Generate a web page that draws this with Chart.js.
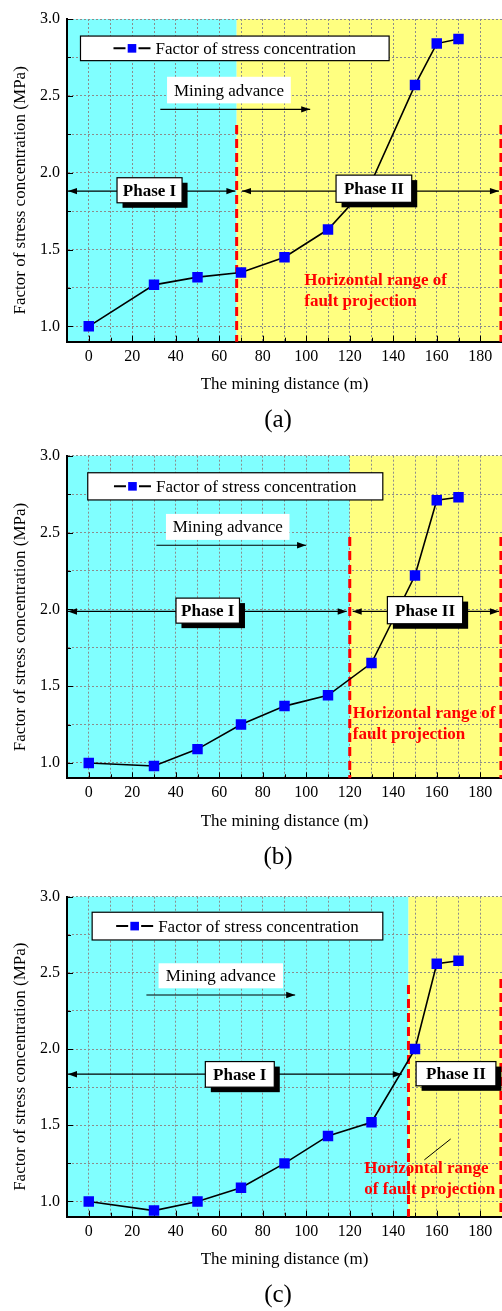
<!DOCTYPE html>
<html>
<head>
<meta charset="utf-8">
<script src="https://cdn.jsdelivr.net/npm/chart.js@4.4.1/dist/chart.umd.min.js"></script>
<style>
  html, body { margin: 0; padding: 0; background: #fff; }
  #wrap { position: relative; width: 502px; height: 1311px; overflow: hidden; }
  canvas { position: absolute; left: 0; }
</style>
</head>
<body>
<div id="wrap">
  <canvas id="panelA" width="502" height="437" style="top:0px"></canvas>
  <canvas id="panelB" width="502" height="441" style="top:437px"></canvas>
  <canvas id="panelC" width="502" height="433" style="top:878px"></canvas>
</div>
<script>
// Mining distance (m) of each measurement
const distances = [0, 30, 50, 70, 90, 110, 130, 150, 160, 170];
// Stress concentration factor for the three fault positions
const factorA = [1.00, 1.27, 1.32, 1.35, 1.45, 1.63, 1.94, 2.57, 2.84, 2.87];
const factorB = [1.00, 0.98, 1.09, 1.25, 1.37, 1.44, 1.65, 2.22, 2.71, 2.73];
const factorC = [1.00, 0.94, 1.00, 1.09, 1.25, 1.43, 1.52, 2.00, 2.56, 2.58];
// Start of the horizontal fault projection range (m)
const faultStart = [68, 120, 147];

// Axis ticks
const xTicks = [0, 10, 20, 30, 40, 50, 60, 70, 80, 90, 100, 110, 120, 130, 140, 150, 160, 170, 180, 190];
const yTicks = [1.0, 1.25, 1.5, 1.75, 2.0, 2.25, 2.5, 2.75, 3.0];

// Texts
const seriesLabel = 'Factor of stress concentration';
const xTitle = 'The mining distance (m)';
const yTitle = 'Factor of stress concentration (MPa)';
const panelLetters = ['(a)', '(b)', '(c)'];
const phaseNames = ['Phase I', 'Phase II'];
const advanceText = 'Mining advance';
const faultLinesAB = ['Horizontal range of', 'fault projection'];
const faultLinesC = ['Horizontal range', 'of fault projection'];

const FONT = "'Liberation Serif', 'Times New Roman', serif";

// Placement of the annotations, in axis units
const panels = [
  {
    id: 'panelA', values: factorA, boundary: faultStart[0], letter: panelLetters[0],
    padTop: 19, padBottom: 35.3,
    dashTop: [2.31, 2.31],
    legend: [-3.8, 138.1, 2.889, 2.729],
    advance: { box: [36.0, 92.9, 2.624, 2.451], ay: 2.412, ax: [32.9, 101.8] },
    phaseY: 1.88,
    phase1: { arrow: [-10, 67.4], box: [13.0, 42.9, 1.967, 1.804] },
    phase2: { arrow: [70.0, 188.6], box: [113.7, 148.5, 1.984, 1.807] },
    fault: { x: 99.1, y: [1.301, 1.166], lines: faultLinesAB }
  },
  {
    id: 'panelB', values: factorB, boundary: faultStart[1], letter: panelLetters[1],
    padTop: 18.7, padBottom: 39.7,
    dashTop: [2.47, 2.47],
    legend: [-0.46, 135.2, 2.889, 2.712],
    advance: { box: [35.5, 92.3, 2.621, 2.452], ay: 2.417, ax: [31.1, 99.9] },
    phaseY: 1.986,
    phase1: { arrow: [-10, 118.6], box: [40.1, 69.3, 2.073, 1.910] },
    phase2: { arrow: [120.9, 188.6], box: [137.3, 171.9, 2.083, 1.906] },
    fault: { x: 121.4, y: [1.325, 1.189], lines: faultLinesAB }
  },
  {
    id: 'panelC', values: factorC, boundary: faultStart[2], letter: panelLetters[2],
    padTop: 18.7, padBottom: 34.3,
    dashTop: [2.42, 2.46],
    legend: [1.56, 135.2, 2.898, 2.716],
    advance: { box: [32.1, 89.3, 2.563, 2.399], ay: 2.355, ax: [26.5, 94.9] },
    phaseY: 1.835,
    phase1: { arrow: [-10, 143.9], box: [53.6, 85.3, 1.918, 1.750] },
    phase2: { arrow: null, box: [150.5, 187.2, 1.918, 1.759] },
    fault: { x: 126.7, y: [1.223, 1.083], lines: faultLinesC, pointer: [154.3, 1.273, 166.4, 1.410] }
  }
];

function arrowHead(ctx, x, y, dir) {
  const len = 9, hw = 3.2;
  ctx.beginPath();
  ctx.moveTo(x, y);
  ctx.lineTo(x - dir * len, y - hw);
  ctx.lineTo(x - dir * len, y + hw);
  ctx.closePath();
  ctx.fill();
}

function shadowBox(ctx, x1, y1, x2, y2, text) {
  ctx.fillStyle = '#000';
  ctx.fillRect(x1 + 5.5, y1 + 5, x2 - x1, y2 - y1);
  ctx.fillStyle = '#fff';
  ctx.fillRect(x1, y1, x2 - x1, y2 - y1);
  ctx.strokeStyle = '#000';
  ctx.lineWidth = 1.2;
  ctx.strokeRect(x1, y1, x2 - x1, y2 - y1);
  ctx.fillStyle = '#000';
  ctx.font = 'bold 17px ' + FONT;
  ctx.textAlign = 'center';
  ctx.textBaseline = 'middle';
  ctx.fillText(text, (x1 + x2) / 2, (y1 + y2) / 2 + 1);
}

function makeDecor(P) {
  return {
    id: 'decor_' + P.id,
    beforeDraw(chart) {
      const { ctx, chartArea: a, scales: { x } } = chart;
      const bx = x.getPixelForValue(P.boundary);
      ctx.save();
      ctx.fillStyle = '#80ffff';
      ctx.fillRect(a.left, a.top, bx - a.left, a.bottom - a.top);
      ctx.fillStyle = '#ffff80';
      ctx.fillRect(bx, a.top, a.right - bx, a.bottom - a.top);
      ctx.restore();
    },
    beforeDatasetsDraw(chart) {
      const { ctx, chartArea: a, scales: { x, y } } = chart;
      ctx.save();
      // inward tick marks
      ctx.strokeStyle = '#000';
      ctx.lineWidth = 1;
      xTicks.forEach(v => {
        if (v > 180) return;
        const px = Math.round(x.getPixelForValue(v)) + 0.5;
        const len = v % 20 === 0 ? 6 : 4;
        ctx.beginPath(); ctx.moveTo(px, a.bottom); ctx.lineTo(px, a.bottom - len); ctx.stroke();
      });
      yTicks.forEach(v => {
        const py = Math.round(y.getPixelForValue(v)) + 0.5;
        const major = Math.abs(v * 2 - Math.round(v * 2)) < 1e-6;
        const len = major ? 6 : 4;
        ctx.beginPath(); ctx.moveTo(a.left, py); ctx.lineTo(a.left + len, py); ctx.stroke();
      });
      // fault projection range limits
      ctx.strokeStyle = '#ff0000';
      ctx.lineWidth = 3;
      ctx.setLineDash([9, 5]);
      [[P.boundary, P.dashTop[0]], [189.5, P.dashTop[1]]].forEach(([xv, top]) => {
        const px = x.getPixelForValue(xv);
        ctx.beginPath();
        ctx.moveTo(px, y.getPixelForValue(top));
        ctx.lineTo(px, a.bottom);
        ctx.stroke();
      });
      ctx.restore();
    },
    afterDatasetsDraw(chart) {
      const { ctx, scales: { x, y } } = chart;
      const X = v => x.getPixelForValue(v);
      const Y = v => y.getPixelForValue(v);
      ctx.save();

      // phase arrows and labels
      const py = Y(P.phaseY);
      ctx.strokeStyle = '#000';
      ctx.fillStyle = '#000';
      ctx.lineWidth = 1.2;
      [P.phase1, P.phase2].forEach(ph => {
        if (!ph.arrow) return;
        const x1 = X(ph.arrow[0]) + 1, x2 = X(ph.arrow[1]);
        ctx.beginPath(); ctx.moveTo(x1, py); ctx.lineTo(x2, py); ctx.stroke();
        arrowHead(ctx, x1, py, -1);
        arrowHead(ctx, x2, py, 1);
      });
      [P.phase1, P.phase2].forEach((ph, i) => {
        const b = ph.box;
        shadowBox(ctx, X(b[0]), Y(b[2]), X(b[1]), Y(b[3]), phaseNames[i]);
      });

      // legend
      const L = P.legend;
      const lx1 = X(L[0]), lx2 = X(L[1]), ly1 = Y(L[2]), ly2 = Y(L[3]);
      ctx.fillStyle = '#fff';
      ctx.fillRect(lx1, ly1, lx2 - lx1, ly2 - ly1);
      ctx.strokeStyle = '#000';
      ctx.lineWidth = 1.2;
      ctx.strokeRect(lx1, ly1, lx2 - lx1, ly2 - ly1);
      ctx.font = '17px ' + FONT;
      const tw = ctx.measureText(seriesLabel).width;
      const cw = 37 + 5 + tw;
      const sx = (lx1 + lx2) / 2 - cw / 2;
      const cy = (ly1 + ly2) / 2;
      ctx.lineWidth = 2;
      ctx.beginPath();
      ctx.moveTo(sx, cy); ctx.lineTo(sx + 12, cy);
      ctx.moveTo(sx + 25, cy); ctx.lineTo(sx + 37, cy);
      ctx.stroke();
      ctx.fillStyle = '#0000ff';
      ctx.fillRect(sx + 14.2, cy - 4.3, 8.6, 8.6);
      ctx.fillStyle = '#000';
      ctx.textAlign = 'left';
      ctx.textBaseline = 'middle';
      ctx.fillText(seriesLabel, sx + 42, cy + 1);

      // mining advance
      const A = P.advance;
      const ax1 = X(A.box[0]), ax2 = X(A.box[1]), ay1 = Y(A.box[2]), ay2 = Y(A.box[3]);
      ctx.fillStyle = '#fff';
      ctx.fillRect(ax1, ay1, ax2 - ax1, ay2 - ay1);
      ctx.fillStyle = '#000';
      ctx.textAlign = 'center';
      ctx.fillText(advanceText, (ax1 + ax2) / 2, (ay1 + ay2) / 2 + 1);
      const arY = Y(A.ay);
      ctx.lineWidth = 1.2;
      ctx.beginPath(); ctx.moveTo(X(A.ax[0]), arY); ctx.lineTo(X(A.ax[1]), arY); ctx.stroke();
      arrowHead(ctx, X(A.ax[1]), arY, 1);

      // fault projection note
      const F = P.fault;
      ctx.fillStyle = '#ff0000';
      ctx.font = 'bold 17px ' + FONT;
      ctx.textAlign = 'left';
      F.lines.forEach((t, i) => ctx.fillText(t, X(F.x), Y(F.y[i]) + 1));
      if (F.pointer) {
        ctx.strokeStyle = '#000';
        ctx.lineWidth = 1;
        ctx.beginPath();
        ctx.moveTo(X(F.pointer[0]), Y(F.pointer[1]));
        ctx.lineTo(X(F.pointer[2]), Y(F.pointer[3]));
        ctx.stroke();
      }
      ctx.restore();
    },
    afterDraw(chart) {
      const { ctx, chartArea: a } = chart;
      ctx.save();
      ctx.fillStyle = '#000';
      // y-axis title
      ctx.font = '17px ' + FONT;
      ctx.textAlign = 'center';
      ctx.textBaseline = 'middle';
      ctx.translate(21, (a.top + a.bottom) / 2 + 10);
      ctx.rotate(-Math.PI / 2);
      ctx.fillText(yTitle, 0, 0);
      ctx.restore();
      // panel letter
      ctx.save();
      ctx.fillStyle = '#000';
      ctx.font = '25px ' + FONT;
      ctx.textAlign = 'center';
      ctx.textBaseline = 'middle';
      ctx.fillText(P.letter, 278, a.bottom + 79);
      ctx.restore();
    }
  };
}

panels.forEach(P => {
  new Chart(document.getElementById(P.id), {
    type: 'line',
    data: {
      datasets: [{
        label: seriesLabel,
        data: distances.map((d, i) => ({ x: d, y: P.values[i] })),
        borderColor: '#000',
        borderWidth: 1.6,
        backgroundColor: '#0000ff',
        pointStyle: 'rect',
        pointRadius: 7.4,
        pointBorderWidth: 0,
        pointBackgroundColor: '#0000ff',
        tension: 0,
        fill: false
      }]
    },
    options: {
      responsive: false,
      animation: false,
      devicePixelRatio: 1,
      layout: { autoPadding: false, padding: { top: P.padTop, bottom: P.padBottom, left: 0, right: 0 } },
      plugins: { legend: { display: false }, tooltip: { enabled: false } },
      scales: {
        x: {
          type: 'linear', min: -10, max: 190,
          afterBuildTicks: s => { s.ticks = xTicks.map(v => ({ value: v })); },
          afterFit: s => { s.height = 60; s.paddingLeft = 0; s.paddingRight = 0; },
          grid: { color: '#8c8c8c', lineWidth: 1, drawTicks: false },
          border: { display: true, color: '#000', width: 2, dash: [2, 2] },
          ticks: {
            autoSkip: false, maxRotation: 0, padding: 5, color: '#000',
            font: { family: FONT, size: 16 },
            callback: v => (v % 20 === 0 && v <= 180) ? String(v) : ''
          },
          title: {
            display: true, text: xTitle, color: '#000',
            font: { family: FONT, size: 17 }, padding: { top: 0, bottom: 6.5 }
          }
        },
        y: {
          type: 'linear', min: 0.9, max: 3.0,
          afterBuildTicks: s => { s.ticks = yTicks.map(v => ({ value: v })); },
          afterFit: s => { s.width = 67; s.paddingTop = 0; s.paddingBottom = 0; },
          grid: { color: '#8c8c8c', lineWidth: 1, drawTicks: false },
          border: { display: true, color: '#000', width: 2, dash: [2, 2] },
          ticks: {
            autoSkip: false, padding: 7, color: '#000',
            font: { family: FONT, size: 16 },
            callback: v => Math.abs(v * 2 - Math.round(v * 2)) < 1e-6 ? v.toFixed(1) : ''
          }
        }
      }
    },
    plugins: [makeDecor(P)]
  });
});
</script>
</body>
</html>
